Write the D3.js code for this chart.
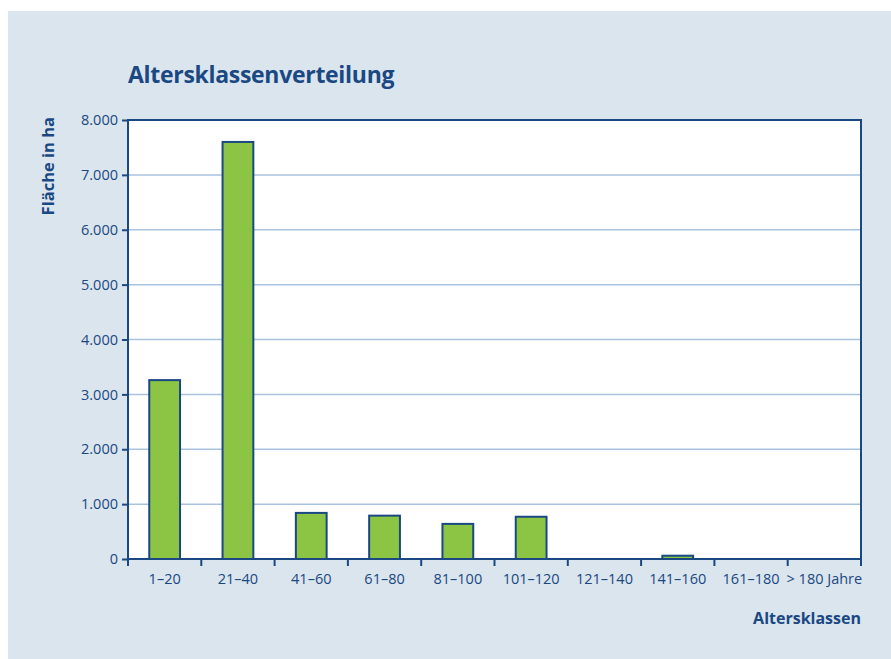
<!DOCTYPE html>
<html><head><meta charset="utf-8">
<script src="https://cdn.jsdelivr.net/npm/d3@7"></script>
<style>html,body{margin:0;padding:0;background:#fff;}svg{display:block;}</style>
</head><body>
<script>
const categories = ["1–20","21–40","41–60","61–80","81–100","101–120","121–140","141–160","161–180","> 180 Jahre"];
const values = [3260, 7600, 840, 790, 640, 770, 0, 60, 0, 0];
const yTicks = [0,1000,2000,3000,4000,5000,6000,7000,8000];

const W = 891, H = 659;
const m = {left:128, right:861, top:120, bottom:559};
const blue = "#1a4882";
const svg = d3.select("body").append("svg").attr("width",W).attr("height",H)
  .style("font-family","'Open Sans', 'Noto Sans', sans-serif");
svg.append("rect").attr("x",8).attr("y",11).attr("width",W-8).attr("height",H-11).attr("fill","#dbe5ee");

const x = d3.scaleBand().domain(categories).range([m.left,m.right]).paddingInner(0.58).paddingOuter(0.29);
const xb = d3.scaleBand().domain(categories).range([m.left,m.right]);
const y = d3.scaleLinear().domain([0,8000]).range([m.bottom,m.top]);

svg.append("rect").attr("x",m.left).attr("y",m.top).attr("width",m.right-m.left).attr("height",m.bottom-m.top).attr("fill","#fff");

// gridlines
svg.append("g").selectAll("line").data(yTicks.filter(d=>d>0&&d<8000)).join("line")
  .attr("x1",m.left).attr("x2",m.right).attr("y1",d=>y(d)).attr("y2",d=>y(d))
  .attr("stroke","#a9c3de").attr("stroke-width",1.5);

// bars
svg.append("g").selectAll("rect").data(categories.map((c,i)=>({c,v:values[i]})).filter(d=>d.v>0)).join("rect")
  .attr("x",d=>x(d.c)).attr("width",x.bandwidth())
  .attr("y",d=>y(d.v)).attr("height",d=>y(0)-y(d.v))
  .attr("fill","#8cc444").attr("stroke",blue).attr("stroke-width",2);

// frame
svg.append("rect").attr("x",m.left).attr("y",m.top).attr("width",m.right-m.left).attr("height",m.bottom-m.top)
  .attr("fill","none").attr("stroke",blue).attr("stroke-width",2);

// y axis
const fmt = d3.formatLocale({decimal:",",thousands:".",grouping:[3],currency:["","€"]}).format(",");
const ya = svg.append("g").attr("transform",`translate(${m.left},0)`)
  .call(d3.axisLeft(y).tickValues(yTicks).tickSize(6).tickPadding(4).tickFormat(fmt));
ya.select(".domain").remove();
ya.selectAll("line").attr("stroke",blue).attr("stroke-width",2);
ya.selectAll("text").attr("fill",blue).style("font-size","14.5px").style("font-family","'Open Sans', sans-serif");

// x axis
const xa = svg.append("g").attr("transform",`translate(0,${m.bottom})`)
  .call(d3.axisBottom(x).tickSize(0).tickPadding(15));
xa.select(".domain").remove();
xa.selectAll("text").attr("fill",blue).style("font-size","14.5px").style("font-family","'Open Sans', sans-serif");
const bounds = categories.map(c=>xb(c)).concat([m.right]);
svg.append("g").selectAll("line").data(bounds).join("line")
  .attr("x1",d=>d).attr("x2",d=>d).attr("y1",m.bottom).attr("y2",m.bottom+7)
  .attr("stroke",blue).attr("stroke-width",2);

// titles
svg.append("text").attr("x",128).attr("y",83).text("Altersklassenverteilung")
  .attr("fill",blue).style("font-size","23px").style("font-weight","bold").style("letter-spacing","-0.3px");
svg.append("text").attr("transform","translate(54,117) rotate(-90)").attr("text-anchor","end")
  .text("Fläche in ha").attr("fill",blue).style("font-size","16.5px").style("font-weight","bold");
svg.append("text").attr("x",861).attr("y",624).attr("text-anchor","end").text("Altersklassen")
  .attr("fill",blue).style("font-size","16px").style("font-weight","bold");
</script>
</body></html>
